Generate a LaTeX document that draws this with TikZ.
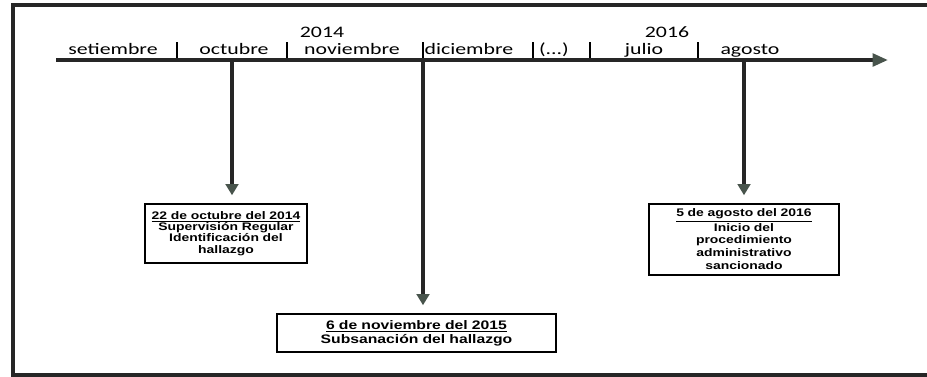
\documentclass[tikz,border=0pt]{standalone}
\usepackage{fontspec}
\setmainfont[FakeStretch=1.36]{Carlito}
\newfontfamily\boxfont[FakeStretch=1.27]{Liberation Sans}
\usetikzlibrary{arrows.meta}
\definecolor{tipgray}{RGB}{72,84,76}
\tikzset{
  month/.style={anchor=base,font=\fontsize{11.4}{13}\selectfont},
  event/.style={draw,line width=1.3pt,anchor=north,align=center,inner xsep=0pt,
    font=\boxfont\bfseries\fontsize{7.8}{8.1}\selectfont},
  drop/.style={line width=2.4pt,black!85,shorten >=5.5pt,
    -{Triangle[length=8pt,width=9pt,fill=tipgray,color=tipgray]}}
}
\begin{document}
\begin{tikzpicture}[x=0.025cm,y=-0.025cm]
\useasboundingbox (0,0) rectangle (927,376);
\draw[line width=2.2pt,black!85] (940,5) -- (13,5) -- (13,375) -- (940,375);
\draw[line width=2.6pt,black!85,-{Triangle[length=11pt,width=9pt,fill=tipgray,color=tipgray]}]
  (56,60) coordinate (tstart) -- (888,60) coordinate (tend);
\node[month] (y14) at (322,37.5) {2014};
\node[month] (y16) at (667,37.5) {2016};
\node[month] (sep) at (113,54) {setiembre};
\node[month] (oct) at (234,54) {octubre};
\node[month] (nov) at (352,54) {noviembre};
\node[month] (dic) at (469,54) {diciembre};
\node[month] (gap) at (554,54) {(...)};
\node[month] (jul) at (644,54) {julio};
\node[month] (ago) at (750,54) {agosto};
\foreach \x in {177,287,423,533,590,698}
  \draw[line width=0.9pt] (\x,42) -- (\x,58);
\node[event,text width=4.05cm,minimum height=1.475cm] (e1) at (226,203)
  {\underline{22 de octubre del 2014}\\Supervisión Regular\\Identificación del\\hallazgo};
\node[event,text width=6.98cm,minimum height=0.95cm,font=\boxfont\bfseries\fontsize{8.8}{10}\selectfont]
  (e2) at (416.5,313)
  {\underline{6 de noviembre del 2015}\\Subsanación del hallazgo};
\node[event,text width=4.75cm,minimum height=1.75cm,font=\boxfont\bfseries\fontsize{7.8}{9.2}\selectfont]
  (e3) at (744,203)
  {\underline{5 de agosto del 2016}\\Inicio del\\procedimiento\\administrativo\\sancionado};
\coordinate (c1) at (232,60);
\coordinate (c2) at (423,60);
\coordinate (c3) at (744,60);
\draw[drop] (c1) -- (c1 |- e1.north);
\draw[drop] (c2) -- (c2 |- e2.north);
\draw[drop] (c3) -- (c3 |- e3.north);
\end{tikzpicture}
\end{document}
